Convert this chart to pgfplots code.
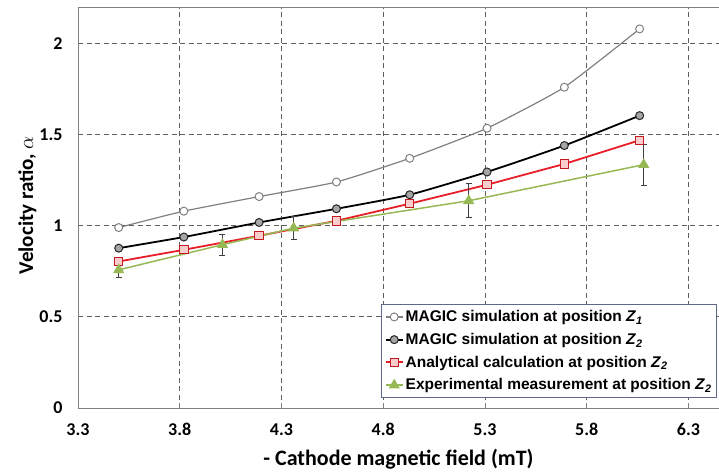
\documentclass[border=0pt]{standalone}
\usepackage{pgfplots}
\pgfplotsset{compat=1.18}
\usepackage{fontspec}
\setmainfont{Carlito}
\newfontfamily\legfont{Liberation Sans}

\definecolor{zone}{RGB}{128,128,128}
\definecolor{gridc}{RGB}{95,95,95}
\definecolor{redc}{RGB}{232,30,40}
\definecolor{pinkc}{RGB}{250,205,205}
\definecolor{greenc}{RGB}{150,185,85}
\definecolor{legbox}{RGB}{95,105,135}

\begin{document}
\begin{tikzpicture}
\begin{axis}[
    scale only axis,
    width=641pt, height=401pt,
    xmin=3.3, xmax=6.45,
    ymin=0, ymax=2.2,
    xtick={3.3,3.8,4.3,4.8,5.3,5.8,6.3},
    xticklabels={3.3,3.8,4.3,4.8,5.3,5.8,6.3},
    ytick={0,0.5,1,1.5,2},
    yticklabels={0,0.5,1,1.5,2},
    /pgf/number format/assume math mode=true,
    axis y line*=left,
    xtick pos=left,
    axis line style={zone, line width=1pt},
    x tick style={zone, line width=0.8pt},
    major tick length=5pt,
    ytick style={draw=none},
    grid=major,
    major grid style={gridc, line width=0.9pt, dash pattern=on 5pt off 3.5pt},
    ticklabel style={font=\bfseries\fontsize{18}{21}\selectfont},
    xticklabel style={yshift=-12pt},
    yticklabel style={xshift=-12pt},
    xlabel={- Cathode magnetic field (mT)},
    ylabel={Velocity ratio, $\alpha$},
    xlabel style={font=\bfseries\fontsize{22}{26}\selectfont,
        at={(axis description cs:0.5,0)}, anchor=base, yshift=-57pt},
    ylabel style={font=\bfseries\fontsize{21}{25}\selectfont,
        at={(axis description cs:-0.0702,0.506)}, anchor=base},
    legend cell align=left,
    legend style={at={(rel axis cs:0.997,0.025)}, anchor=south east,
        draw=legbox, line width=1pt, fill=white,
        font=\legfont\bfseries\fontsize{15.5}{18}\selectfont,
        row sep=6pt, inner xsep=3pt, inner ysep=4pt},
]
\addplot[zone, line width=1.2pt, smooth, tension=0.3,
    mark=*, mark size=4pt, mark options={fill=white, draw=zone, line width=1pt}]
    coordinates {(3.50,0.99) (3.82,1.08) (4.19,1.16) (4.57,1.24) (4.93,1.37) (5.31,1.535) (5.69,1.76) (6.06,2.08)};
\addlegendentry{MAGIC simulation at position \textit{Z}\textsubscript{\textit{1}}}

\addplot[black, line width=1.8pt, smooth, tension=0.3,
    mark=*, mark size=4pt, mark options={fill=black!35, draw=black!85, line width=1pt}]
    coordinates {(3.50,0.877) (3.82,0.938) (4.19,1.018) (4.57,1.093) (4.93,1.17) (5.31,1.295) (5.69,1.44) (6.06,1.604)};
\addlegendentry{MAGIC simulation at position \textit{Z}\textsubscript{\textit{2}}}

\addplot[redc, line width=1.8pt,
    mark=square*, mark size=4.2pt, mark options={fill=pinkc, draw=redc!85!black, line width=1pt}]
    coordinates {(3.50,0.804) (3.82,0.868) (4.19,0.945) (4.57,1.027) (4.93,1.121) (5.31,1.225) (5.69,1.339) (6.06,1.469)};
\addlegendentry{Analytical calculation at position \textit{Z}\textsubscript{\textit{2}}}

\addplot[greenc, line width=1.5pt,
    mark=triangle*, mark size=5pt, mark options={fill=greenc, draw=greenc},
    error bars/.cd, y dir=both, y explicit,
    error bar style={black!75, line width=1.3pt},
    error mark options={rotate=90, mark size=3pt, line width=1pt, black!75}]
    coordinates {(3.50,0.758) +- (0,0.04) (4.01,0.896) +- (0,0.058) (4.36,0.987) +- (0,0.065) (5.22,1.137) +- (0,0.094) (6.08,1.335) +- (0,0.113)};
\addlegendentry{Experimental measurement at position \textit{Z}\textsubscript{\textit{2}}}

\coordinate (bl) at (rel axis cs:-0.1217,-0.1646);
\coordinate (tr) at (rel axis cs:1,1.0175);
\end{axis}
\pgfresetboundingbox
\path (bl) rectangle (tr);
\end{tikzpicture}
\end{document}
